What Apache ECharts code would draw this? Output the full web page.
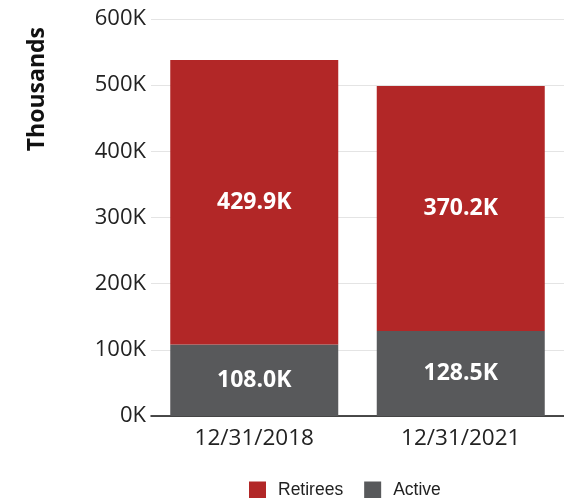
<!DOCTYPE html>
<html><head><meta charset="utf-8">
<script src="https://cdn.jsdelivr.net/npm/echarts@6/dist/echarts.min.js"></script>
<style>html,body{margin:0;padding:0;background:#fff}#c{width:564px;height:498px}</style>
</head><body><div id="c"></div>
<script>
const categories = ['12/31/2018', '12/31/2021'];
const active = [108.0, 128.5];
const retirees = [429.9, 370.2];
const yTicks = [0, 100, 200, 300, 400, 500, 600];

const chart = echarts.init(document.getElementById('c'));
const lbl = {
  show: true, position: 'inside', color: '#fff', fontFamily: 'Open Sans',
  fontWeight: 'bold', fontSize: 23,
  formatter: p => p.value.toFixed(1) + 'K'
};
chart.setOption({
  animation: false,
  grid: { left: 151, right: -2, top: 19, bottom: 82, containLabel: false },
  legend: {
    top: 481, left: 249, itemWidth: 17, itemHeight: 17, itemGap: 21,
    icon: 'rect', padding: 0,
    textStyle: { fontFamily: 'Liberation Sans', fontSize: 17.5, color: '#222', padding: [0, 0, 0, 7] },
    data: ['Retirees', 'Active']
  },
  graphic: [{
    type: 'text', left: 26, top: 27,
    style: { text: 'Thousands', fontFamily: 'Open Sans', fontWeight: 'bold', fontSize: 23, fill: '#111' },
    rotation: Math.PI / 2, originX: 0, originY: 0
  }],
  xAxis: {
    type: 'category', data: categories,
    axisLine: { lineStyle: { color: '#111', width: 1.5 } },
    axisTick: { show: false },
    axisLabel: { fontFamily: 'Open Sans', fontSize: 22.5, color: '#222', margin: 11 }
  },
  yAxis: {
    type: 'value', min: yTicks[0], max: yTicks[yTicks.length - 1], interval: 100,
    axisLabel: { fontFamily: 'Open Sans', fontSize: 22, color: '#222', margin: 5, formatter: '{value}K' },
    splitLine: { lineStyle: { color: '#e4e4e4' } },
    axisLine: { show: false }, axisTick: { show: false }
  },
  series: [
    { name: 'Active', type: 'bar', stack: 't', data: active, barWidth: 168,
      itemStyle: { color: '#58595B' }, label: lbl },
    { name: 'Retirees', type: 'bar', stack: 't', data: retirees, barWidth: 168,
      itemStyle: { color: '#B22727' }, label: lbl }
  ]
});
</script></body></html>
